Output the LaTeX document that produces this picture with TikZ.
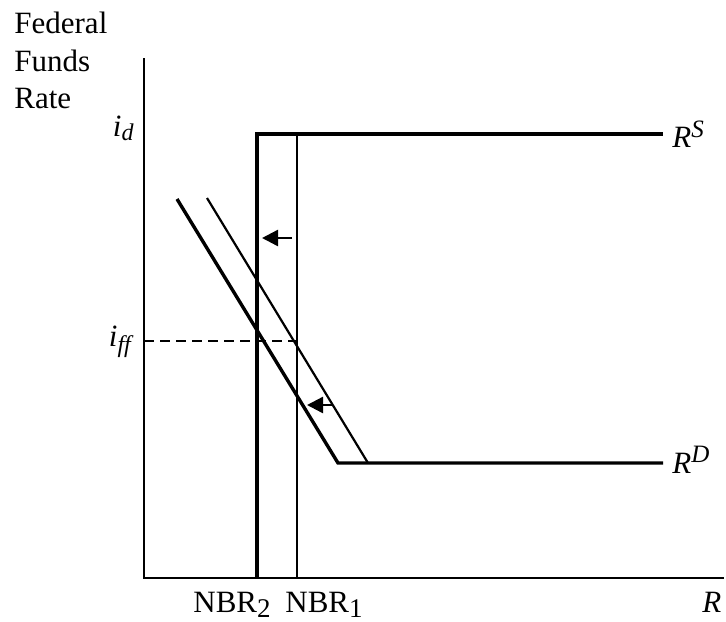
\documentclass[tikz,border=0pt]{standalone}
\usepackage{fontspec}
\setmainfont{Liberation Serif}
\usetikzlibrary{arrows.meta}
\tikzset{
  thickline/.style={line width=1.7pt, line join=miter},
  thinline/.style={line width=1.1pt},
  axisline/.style={line width=1.1pt},
  dashline/.style={line width=1.1pt, dash pattern=on 5pt off 3pt},
  shiftarrow/.style={line width=1.2pt, -{Triangle[length=8pt,width=8pt]}},
  lbl/.style={inner sep=0pt, font=\fontsize{15.5}{18}\selectfont}
}
\begin{document}
\begin{tikzpicture}[x=0.5pt,y=-0.5pt]
\useasboundingbox (0,0) rectangle (726,621);
% coordinates
\coordinate (ytop) at (144,58);
\coordinate (origin) at (144,578);
\coordinate (xend) at (724,578);
\coordinate (n2b) at (257,578);
\coordinate (n2t) at (257,134);
\coordinate (rsend) at (663,134);
\coordinate (n1b) at (297,578);
\coordinate (n1t) at (297,134);
\coordinate (d2s) at (177,199);
\coordinate (d2k) at (338,463);
\coordinate (rdend) at (663,463);
\coordinate (d1s) at (207,198);
\coordinate (d1k) at (368,463);
\coordinate (ffy) at (144,341);
\coordinate (ffx) at (297,341);
\coordinate (a1s) at (292,238);
\coordinate (a1e) at (262,238);
\coordinate (a2s) at (332,405);
\coordinate (a2e) at (307,405);
% axes
\draw[axisline] (ytop) -- (origin) -- (xend);
% supply
\draw[thickline] (n2b) -- (n2t) -- (rsend);
\draw[thinline] (n1b) -- (n1t);
% demand
\draw[thickline] (d2s) -- (d2k) -- (rdend);
\draw[thinline] (d1s) -- (d1k);
% dashed
\draw[dashline] (ffy) -- (ffx);
% arrows
\draw[shiftarrow] (a1s) -- (a1e);
\draw[shiftarrow] (a2s) -- (a2e);
% labels
\node[lbl, anchor=base west] (lfed) at (14,33) {Federal};
\node[lbl, anchor=base west] (lfun) at (14,71) {Funds};
\node[lbl, anchor=base west] (lrat) at (14,108) {Rate};
\node[lbl, anchor=base east] (lid) at (134,136) {\textit{i}\raisebox{-2pt}{\fontsize{12}{12}\selectfont\textit{d}}};
\node[lbl, anchor=base east] (liff) at (134,346) {\textit{i}\raisebox{-3pt}{\fontsize{12}{12}\selectfont\textit{f\kern0pt f}}};
\node[lbl, anchor=base west] (lrs) at (672,147) {\textit{R}\raisebox{5pt}{\fontsize{12.5}{12}\selectfont\textit{S}}};
\node[lbl, anchor=base west] (lrd) at (672,473) {\textit{R}\raisebox{5.5pt}{\fontsize{12.5}{12}\selectfont\textit{D}}};
\node[lbl, anchor=base west] (lnbr2) at (193,612) {NBR\raisebox{-2.5pt}{\fontsize{13.5}{14}\selectfont 2}};
\node[lbl, anchor=base west] (lnbr1) at (285,612) {NBR\raisebox{-2.5pt}{\fontsize{13.5}{14}\selectfont 1}};
\node[lbl, anchor=base west] (lr) at (702,612) {\textit{R}};
\end{tikzpicture}
\end{document}
